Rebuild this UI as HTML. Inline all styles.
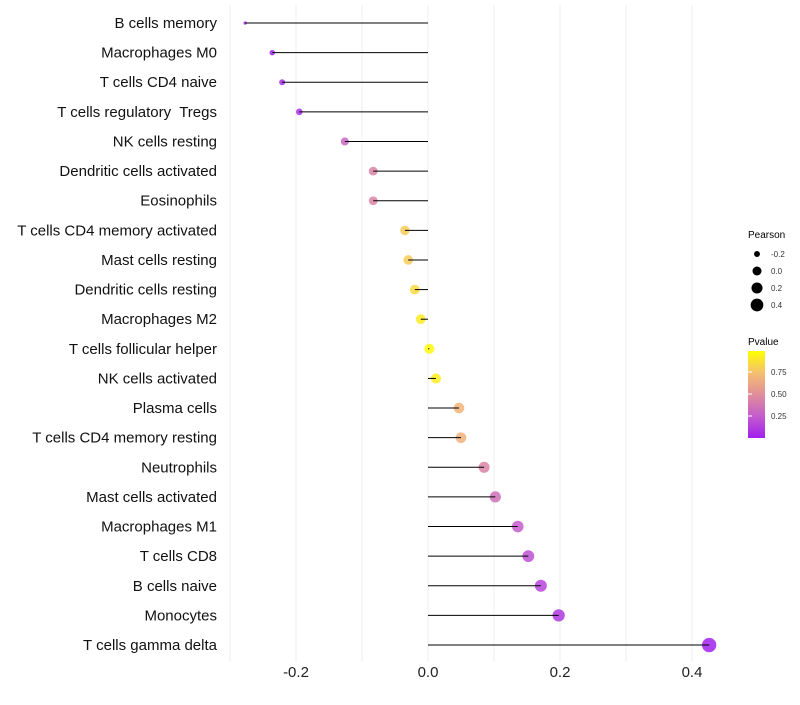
<!DOCTYPE html>
<html><head><meta charset="utf-8"><style>
body{margin:0;background:#fff;font-family:"Liberation Sans",Arial,sans-serif}
svg text{font-family:"Liberation Sans",Arial,sans-serif;white-space:pre}
</style></head><body>
<svg id="chart" width="800" height="700" xmlns="http://www.w3.org/2000/svg">
<defs>
<linearGradient id="pgrad" x1="0" y1="1" x2="0" y2="0">
<stop offset="0" stop-color="#A020F0"/><stop offset="0.25" stop-color="#C45CCC"/>
<stop offset="0.5" stop-color="#E08E9A"/><stop offset="0.75" stop-color="#F5BF6E"/>
<stop offset="1" stop-color="#FFFF00"/></linearGradient>
</defs>
<g id="grid"></g><g id="marks"></g><g id="labels"></g>
<g>
<text x="748" y="238" font-size="10">Pearson</text>
<g id="sizeleg"></g>
<text x="748" y="345" font-size="10">Pvalue</text>
<rect x="748" y="351" width="17" height="87" fill="url(#pgrad)"/>
<g id="cbticks"></g>
</g>
</svg>
<script>
const categories=["B cells memory","Macrophages M0","T cells CD4 naive","T cells regulatory  Tregs","NK cells resting","Dendritic cells activated","Eosinophils","T cells CD4 memory activated","Mast cells resting","Dendritic cells resting","Macrophages M2","T cells follicular helper","NK cells activated","Plasma cells","T cells CD4 memory resting","Neutrophils","Mast cells activated","Macrophages M1","T cells CD8","B cells naive","Monocytes","T cells gamma delta"];
const pearson=[-0.277,-0.236,-0.221,-0.195,-0.126,-0.083,-0.083,-0.035,-0.030,-0.020,-0.011,0.002,0.012,0.047,0.050,0.085,0.102,0.136,0.152,0.171,0.198,0.426];
const pvalues=[0.02,0.03,0.05,0.08,0.30,0.45,0.45,0.80,0.80,0.85,0.92,0.98,0.93,0.70,0.68,0.45,0.35,0.25,0.20,0.15,0.10,0.01];
const xTicks=[-0.2,0,0.2,0.4];
const xTickLabels=["-0.2","0.0","0.2","0.4"];
const sizeLegendVals=[-0.2,0.0,0.2,0.4];
const cbTicks=[0.25,0.5,0.75];
const cbTickLabels=["0.25","0.50","0.75"];
const NS="http://www.w3.org/2000/svg";
const x=v=>428+v*660;
const y=i=>23+i*29.62;
const r=v=>1.3+7*Math.sqrt(Math.max(0,v+0.28));
const stops=[[0,[160,32,240]],[0.25,[196,92,204]],[0.5,[224,142,154]],[0.75,[245,191,110]],[1,[255,255,0]]];
function col(p){for(let k=0;k<stops.length-1;k++){const a=stops[k],b=stops[k+1];if(p<=b[0]){const t=(p-a[0])/(b[0]-a[0]);const c=a[1].map((v,j)=>Math.round(v+(b[1][j]-v)*t));return`rgb(${c})`;}}return"rgb(255,255,0)";}
function mk(t,attrs,parent){const e=document.createElementNS(NS,t);for(const k in attrs)e.setAttribute(k,attrs[k]);document.getElementById(parent).appendChild(e);return e;}
for(let v=-0.3;v<=0.41;v+=0.1){const g=mk("line",{x1:x(v),x2:x(v),y1:5,y2:662,stroke:"#efefef","stroke-width":1},"grid");

}
xTicks.forEach((v,i)=>{const t=mk("text",{x:x(v),y:677,"font-size":15,"text-anchor":"middle",fill:"#222"},"labels");t.textContent=xTickLabels[i];

});
categories.forEach((c,i)=>{
const t=mk("text",{x:217,y:y(i)+5,"font-size":15,"text-anchor":"end",fill:"#111"},"labels");t.textContent=c;


const d=mk("circle",{cx:x(pearson[i]),cy:y(i),r:r(pearson[i]),fill:col(pvalues[i]),"fill-opacity":0.85},"marks");


const l=mk("line",{x1:x(0),x2:x(pearson[i]),y1:y(i),y2:y(i),stroke:"#000","stroke-width":1},"marks");


});
sizeLegendVals.forEach((v,i)=>{const cy=254+i*17;
const c=mk("circle",{cx:757,cy:cy,r:r(v)*0.9,fill:"#000"},"sizeleg");


const t=mk("text",{x:771,y:cy+3,"font-size":8,fill:"#333"},"sizeleg");t.textContent=v===0?"0.0":String(v);

});
cbTicks.forEach((v,i)=>{const cy=438-v*88;
const l=mk("line",{x1:748,x2:752,y1:cy,y2:cy,stroke:"#fff"},"cbticks");


const t=mk("text",{x:771,y:cy+3,"font-size":8,fill:"#333"},"cbticks");t.textContent=cbTickLabels[i];

});
</script>
</body></html>
